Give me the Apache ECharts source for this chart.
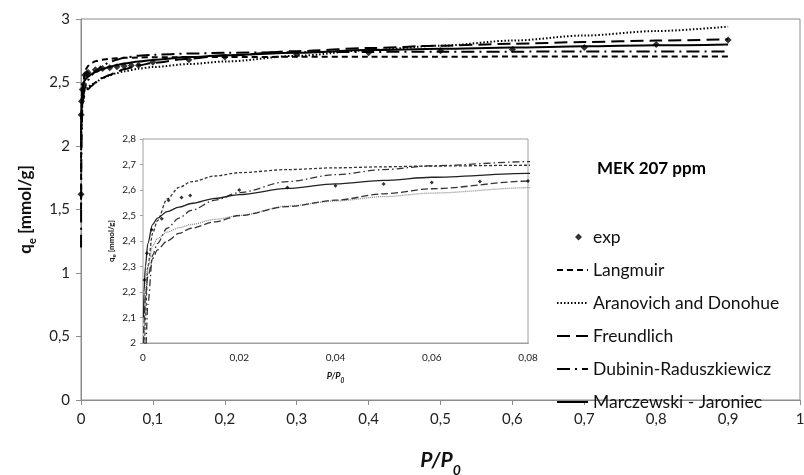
<!DOCTYPE html>
<html>
<head>
<meta charset="utf-8">
<script src="https://cdn.jsdelivr.net/npm/echarts@6/dist/echarts.min.js"></script>
<style>
html, body { margin: 0; padding: 0; background: #fff; }
#chart { width: 804px; height: 475px; }
</style>
</head>
<body>
<div id="chart"></div>
<script>
// relative pressure grid of the fitted curves
var pp = [0.0001, 0.0002, 0.0005, 0.001, 0.002, 0.003, 0.005, 0.0075, 0.01, 0.015, 0.02, 0.03, 0.04, 0.05, 0.06, 0.08, 0.1, 0.15, 0.2, 0.3, 0.4, 0.5, 0.6, 0.7, 0.8, 0.9];
var langmuir = [1.5, 1.9, 2.1, 2.3, 2.43, 2.48, 2.565, 2.61, 2.632, 2.655, 2.668, 2.68, 2.687, 2.691, 2.694, 2.697, 2.699, 2.7, 2.701, 2.702, 2.703, 2.703, 2.704, 2.704, 2.704, 2.705];
var aranovich = [1.8, 2.0, 2.2, 2.3, 2.38, 2.41, 2.435, 2.452, 2.465, 2.485, 2.5, 2.537, 2.557, 2.574, 2.588, 2.609, 2.622, 2.645, 2.665, 2.71, 2.755, 2.79, 2.83, 2.87, 2.905, 2.94];
var freundlich = [2.0, 2.08, 2.18, 2.26, 2.33, 2.365, 2.4, 2.43, 2.45, 2.475, 2.5, 2.535, 2.56, 2.585, 2.605, 2.635, 2.654, 2.688, 2.712, 2.747, 2.771, 2.79, 2.805, 2.818, 2.83, 2.84];
var dubinin = [1.2, 1.6, 1.95, 2.15, 2.345, 2.39, 2.45, 2.49, 2.52, 2.56, 2.59, 2.633, 2.66, 2.68, 2.695, 2.711, 2.718, 2.728, 2.734, 2.739, 2.741, 2.742, 2.743, 2.744, 2.744, 2.745];
var marczewski = [2.1, 2.2, 2.3, 2.39, 2.465, 2.49, 2.515, 2.533, 2.547, 2.567, 2.582, 2.606, 2.624, 2.638, 2.65, 2.665, 2.678, 2.7, 2.715, 2.735, 2.755, 2.765, 2.775, 2.785, 2.793, 2.8];

// experimental points
var ppExp = [0.0001, 0.0003, 0.0008, 0.0018, 0.0039, 0.0053, 0.008, 0.0098, 0.02, 0.03, 0.04, 0.05, 0.06, 0.07, 0.08, 0.1, 0.15, 0.2, 0.3, 0.4, 0.5, 0.6, 0.7, 0.8, 0.9];
var qExp = [1.62, 2.247, 2.352, 2.444, 2.487, 2.56, 2.571, 2.578, 2.6, 2.61, 2.617, 2.624, 2.629, 2.633, 2.635, 2.66, 2.68, 2.7, 2.72, 2.735, 2.75, 2.76, 2.775, 2.8, 2.835];

var FONT = 'Lato';
var CLEAR = 'rgba(0,0,0,0)';

function pairs(xs, ys) {
	return xs.map(function(x, i) { return [x, ys[i]]; });
}
function comma(v) {
	return String(+v.toFixed(2)).replace('.', ',');
}

var models = [
	{ name: 'Langmuir', data: langmuir, dash: [6, 4], dashS: [3, 2], colorS: '#333' },
	{ name: 'Aranovich and Donohue', data: aranovich, dash: [1.5, 2], dashS: [1, 1], colorS: '#888' },
	{ name: 'Freundlich', data: freundlich, dash: [13, 6], dashS: [7, 3], colorS: '#333' },
	{ name: 'Dubinin-Raduszkiewicz', data: dubinin, dash: [13, 5, 2, 5], dashS: [7, 3, 1.5, 3], colorS: '#333' },
	{ name: 'Marczewski - Jaroniec', data: marczewski, dash: 'solid', dashS: 'solid', colorS: '#222' }
];

var series = [{
	name: 'exp', type: 'scatter', xAxisIndex: 0, yAxisIndex: 0,
	symbol: 'diamond', symbolSize: 7, itemStyle: { color: '#000' },
	data: pairs(ppExp, qExp), z: 5
}];
models.forEach(function(m) {
	series.push({
		name: m.name, type: 'line', xAxisIndex: 0, yAxisIndex: 0,
		symbol: 'circle', showSymbol: false, smooth: 0.3, smoothMonotone: 'x',
		lineStyle: { color: '#000', width: 2, type: m.dash },
		itemStyle: { color: CLEAR, borderColor: CLEAR, borderWidth: 0 },
		data: pairs(pp, m.data)
	});
});
// inset (zoom on 0 - 0.08)
series.push({
	name: 'exp', type: 'scatter', xAxisIndex: 1, yAxisIndex: 1,
	symbol: 'diamond', symbolSize: 4, itemStyle: { color: '#000' },
	data: pairs(ppExp, qExp).filter(function(d) { return d[0] <= 0.0805 && d[1] >= 2; }), z: 5
});
models.forEach(function(m) {
	series.push({
		name: m.name, type: 'line', xAxisIndex: 1, yAxisIndex: 1,
		symbol: 'circle', showSymbol: false, smooth: 0.3, smoothMonotone: 'x', clip: true,
		lineStyle: { color: m.colorS, width: 1.3, type: m.dashS },
		itemStyle: { color: CLEAR, borderColor: CLEAR, borderWidth: 0 },
		data: pairs(pp, m.data)
	});
});

var legendNames = ['exp', 'Langmuir', 'Aranovich and Donohue', 'Freundlich', 'Dubinin-Raduszkiewicz', 'Marczewski - Jaroniec'];

var myChart = echarts.init(document.getElementById('chart'));
var option = {
	animation: false,
	backgroundColor: '#fff',
	title: {
		text: 'MEK 207 ppm', left: 592, top: 155,
		textStyle: { fontFamily: FONT, fontSize: 17, fontWeight: 'bold', color: '#000' }
	},
	legend: {
		orient: 'vertical', left: 551, top: 223,
		itemWidth: 31, itemHeight: 8, itemGap: 15,
		data: legendNames.map(function(n) {
			return n === 'exp' ? { name: n, icon: 'path://M0,0M31,8M21.5,0.5L25,4L21.5,7.5L18,4Z' } : { name: n };
		}),
		textStyle: { fontFamily: FONT, fontSize: 17.5, color: '#111' }
	},
	grid: [
		{ left: 81, right: 4, top: 19, bottom: 75, outerBoundsMode: 'none', show: true, borderColor: '#8c8c8c', borderWidth: 1 },
		{ left: 143, top: 139, width: 385, height: 204, outerBoundsMode: 'none', show: true, backgroundColor: '#fff', borderColor: '#a0a0a0', borderWidth: 1, z: 3 }
	],
	xAxis: [{
		gridIndex: 0, type: 'value', min: 0, max: 1, interval: 0.1,
		name: '{b|P/P}{s|0}', nameLocation: 'middle', nameGap: 50,
		nameTextStyle: { rich: {
			b: { fontFamily: FONT, fontSize: 21, fontWeight: 'bold', fontStyle: 'italic', color: '#111', verticalAlign: 'bottom' },
			s: { fontFamily: FONT, fontSize: 14, fontWeight: 'bold', fontStyle: 'italic', color: '#111', verticalAlign: 'bottom', padding: [0, 0, -6, 0] }
		} },
		axisLine: { lineStyle: { color: '#8c8c8c' } },
		axisTick: { show: true, length: 5, lineStyle: { color: '#8c8c8c' } },
		splitLine: { show: false },
		axisLabel: { fontFamily: FONT, fontSize: 15, color: '#222', margin: 12, formatter: comma }
	}, {
		gridIndex: 1, type: 'value', min: 0, max: 0.08, interval: 0.02,
		name: '{b|P/P}{s|0}', nameLocation: 'middle', nameGap: 29,
		nameTextStyle: { rich: {
			b: { fontFamily: FONT, fontSize: 9, fontWeight: 'bold', fontStyle: 'italic', color: '#111', verticalAlign: 'bottom' },
			s: { fontFamily: FONT, fontSize: 6.5, fontWeight: 'bold', fontStyle: 'italic', color: '#111', verticalAlign: 'bottom', padding: [0, 0, -3, 0] }
		} },
		axisLine: { lineStyle: { color: '#a0a0a0', width: 2 } },
		axisTick: { show: false },
		splitLine: { show: false },
		axisLabel: { fontFamily: FONT, fontSize: 10, color: '#222', margin: 10, formatter: comma }
	}],
	yAxis: [{
		gridIndex: 0, type: 'value', min: 0, max: 3, interval: 0.5,
		name: '{b|q}{s|e}{b| [mmol/g]}', nameLocation: 'middle', nameGap: 37, nameRotate: 90,
		nameTextStyle: { rich: {
			b: { fontFamily: FONT, fontSize: 17, fontWeight: 'bold', color: '#111', verticalAlign: 'bottom' },
			s: { fontFamily: FONT, fontSize: 11, fontWeight: 'bold', color: '#111', verticalAlign: 'bottom', padding: [0, 0, -4, 0] }
		} },
		axisLine: { show: true, lineStyle: { color: '#8c8c8c' } },
		axisTick: { show: true, length: 5, lineStyle: { color: '#8c8c8c' } },
		splitLine: { show: false },
		axisLabel: { fontFamily: FONT, fontSize: 15, color: '#222', margin: 11, formatter: comma }
	}, {
		gridIndex: 1, type: 'value', min: 2, max: 2.8, interval: 0.1,
		name: '{b|q}{s|e}{b| [mmol/g]}', nameLocation: 'middle', nameGap: 28, nameRotate: 90,
		nameTextStyle: { rich: {
			b: { fontFamily: FONT, fontSize: 8, fontWeight: 'bold', color: '#111', verticalAlign: 'bottom' },
			s: { fontFamily: FONT, fontSize: 6, fontWeight: 'bold', color: '#111', verticalAlign: 'bottom', padding: [0, 0, -2, 0] }
		} },
		axisLine: { show: true, lineStyle: { color: '#a0a0a0' } },
		axisTick: { show: true, length: 3, lineStyle: { color: '#a0a0a0' } },
		splitLine: { show: false },
		axisLabel: { fontFamily: FONT, fontSize: 10, color: '#222', margin: 7, formatter: comma }
	}],
	series: series
};
myChart.setOption(option);
</script>
</body>
</html>
